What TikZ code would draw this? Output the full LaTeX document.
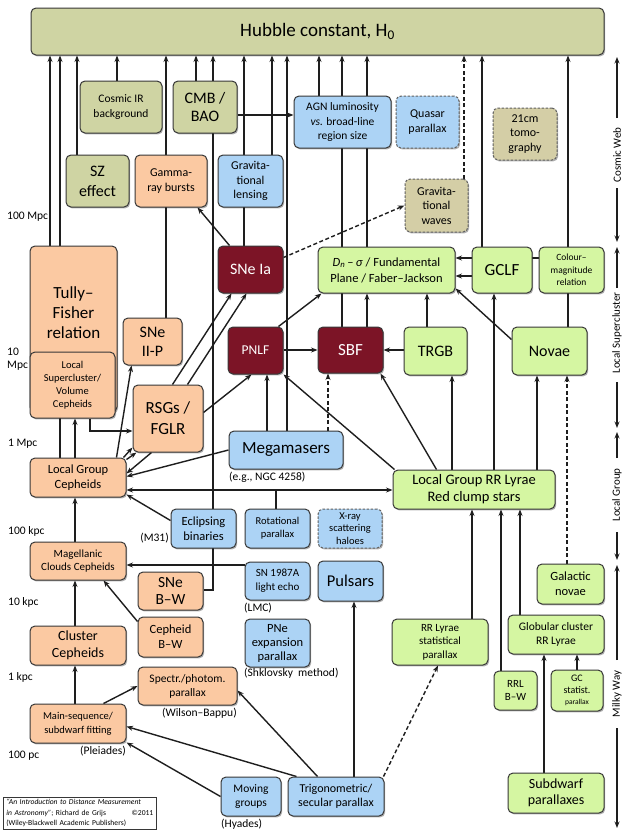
\documentclass[tikz,border=0pt]{standalone}
\usepackage{fontspec}
\setmainfont{Carlito}
\usetikzlibrary{arrows.meta,backgrounds,shadows}
\definecolor{cOlive}{RGB}{207,212,163}
\definecolor{cTan}{RGB}{212,206,166}
\definecolor{cPeach}{RGB}{251,201,162}
\definecolor{cSky}{RGB}{172,211,245}
\definecolor{cLime}{RGB}{213,246,162}
\definecolor{cWine}{RGB}{124,20,38}
\definecolor{cEdge}{RGB}{55,55,55}
\definecolor{cLine}{RGB}{30,30,30}
\newcommand\fs[2]{\fontsize{#1}{#2}\selectfont}
\newcommand\mybox[7]{\node[#6, minimum width={#4-#2}, minimum height={#5-#3}] (#1) at ({(#2+#4)/2},{(#3+#5)/2}) {#7};}
\tikzset{
  bx/.style={draw=cEdge, line width=1pt, rounded corners=5pt, align=center, inner sep=0pt, text=black,
    drop shadow={shadow xshift=1.2pt, shadow yshift=-1.4pt, opacity=0.3, fill=black}},
  ol/.style={bx, fill=cOlive},
  tn/.style={bx, fill=cTan},
  pe/.style={bx, fill=cPeach},
  bl/.style={bx, fill=cSky},
  li/.style={bx, fill=cLime},
  wi/.style={bx, fill=cWine, text=white},
  dsh/.style={dash pattern=on 2.5pt off 1.5pt, draw=cEdge!80},
  arr/.style={-{Stealth[length=6.5pt,width=5pt]}, line width=1.4pt, draw=cLine},
  arrb/.style={{Stealth[length=6.5pt,width=5pt]}-{Stealth[length=6.5pt,width=5pt]}, line width=1.4pt, draw=cLine},
  ln/.style={line width=1.4pt, draw=cLine},
  dsl/.style={dash pattern=on 4pt off 2.5pt},
  dl/.style={font=\fs{11.5}{13}, inner sep=0pt, anchor=west},
  capt/.style={font=\fs{11.5}{13}, inner sep=0pt},
  ax/.style={font=\fs{11}{13}, inner sep=0pt, rotate=90},
}
\begin{document}
\begin{tikzpicture}[x=1pt,y=-1pt]
\useasboundingbox (0,0) rectangle (627,836);
\foreach \v in {50,60,75,77,90,117,166,196,213,244,267,272,276,287,319,328,342,354,367,427,452,464,472,482,494,501,520,537,544,567,568,577,617}
  \coordinate (X\v) at (\v,0);
\foreach \v in {115,258,276,350,431,490,565,590}
  \coordinate (Y\v) at (0,\v);

% boxes
\mybox{H0}{31}{8}{604}{55}{ol,font=\fs{19}{22}}{Hubble constant, H\textsubscript{0}}
\mybox{CIR}{80}{81}{162}{133}{ol,font=\fs{11.5}{15}}{Cosmic IR\\background}
\mybox{CMB}{173}{81}{237}{133}{ol,font=\fs{16}{18}}{CMB /\\BAO}
\mybox{AGN}{294}{96}{391}{148}{bl,font=\fs{11.5}{14.5}}{AGN luminosity\\\textit{vs.} broad-line\\region size}
\mybox{QSO}{396}{96}{459}{148}{bl,dsh,font=\fs{12}{15}}{Quasar\\parallax}
\mybox{HI}{493}{108}{557}{160}{tn,dsh,font=\fs{12}{14.5}}{21cm\\tomo-\\graphy}
\mybox{SZ}{66}{155}{129}{207}{ol,font=\fs{16}{20}}{SZ\\effect}
\mybox{GRB}{135}{155}{207}{207}{pe,font=\fs{12}{15}}{Gamma-\\ray bursts}
\mybox{GL}{218}{155}{283}{207}{bl,font=\fs{12}{14.5}}{Gravita-\\tional\\lensing}
\mybox{GW}{405}{179}{468}{232}{tn,dsh,font=\fs{12}{14.5}}{Gravita-\\tional\\waves}
\mybox{SNIa}{218}{246}{283}{293}{wi,font=\fs{16}{18}}{SNe Ia}
\mybox{FP}{318}{247}{455}{293}{li,font=\fs{12.5}{16}}{\textit{D}\textsubscript{\textit{n}}\,–\,\textit{σ} / Fundamental\\Plane / Faber–Jackson}
\mybox{GCLF}{472}{247}{532}{293}{li,font=\fs{17}{20}}{GCLF}
\mybox{CM}{539}{247}{604}{293}{li,font=\fs{9.5}{12.5}}{Colour–\\magnitude\\relation}
\mybox{TF}{30}{246}{117}{412}{pe}{}
\node[font=\fs{17}{20}, align=center, inner sep=0pt] (TFt) at (73.5,313) {Tully–\\Fisher\\relation};
\mybox{LSC}{30}{352}{115}{418}{pe,font=\fs{10.5}{13}}{Local\\Supercluster/\\Volume\\Cepheids}
\mybox{SNIIP}{123}{318}{182}{365}{pe,font=\fs{16}{19}}{SNe\\II-P}
\mybox{PNLF}{228}{327}{283}{374}{wi,font=\fs{13.5}{16}}{PNLF}
\mybox{SBF}{318}{327}{383}{373}{wi,font=\fs{17}{20}}{SBF}
\mybox{TRGB}{404}{327}{467}{375}{li,font=\fs{16}{19}}{TRGB}
\mybox{Nov}{512}{327}{587}{375}{li,font=\fs{16}{19}}{Novae}
\mybox{RSG}{133}{385}{203}{452}{pe,font=\fs{17}{21}}{RSGs /\\FGLR}
\mybox{MM}{229}{431}{343}{469}{bl,font=\fs{17}{20}}{Megamasers}
\mybox{LGC}{30}{458}{126}{497}{pe,font=\fs{12.5}{15}}{Local Group\\Cepheids}
\mybox{LGRR}{393}{470}{555}{509}{li,font=\fs{14.5}{17}}{Local Group RR Lyrae\\Red clump stars}
\mybox{EB}{171}{509}{236}{548}{bl,font=\fs{12.5}{15}}{Eclipsing\\binaries}
\mybox{RP}{245}{509}{310}{548}{bl,font=\fs{10.5}{13}}{Rotational\\parallax}
\mybox{XR}{318}{509}{382}{548}{bl,dsh,font=\fs{10.5}{12.5}}{X-ray\\scattering\\haloes}
\mybox{MC}{30}{542}{126}{580}{pe,font=\fs{11}{13.5}}{Magellanic\\Clouds Cepheids}
\mybox{SNBW}{138}{572}{203}{610}{pe,font=\fs{15.5}{17}}{SNe\\B–W}
\mybox{SN87}{245}{562}{310}{600}{bl,font=\fs{11}{14}}{SN 1987A\\light echo}
\mybox{PSR}{318}{561}{383}{601}{bl,font=\fs{16.5}{19}}{Pulsars}
\mybox{CC}{30}{626}{126}{665}{pe,font=\fs{14}{17}}{Cluster\\Cepheids}
\mybox{CBW}{138}{617}{203}{657}{pe,font=\fs{12.5}{15}}{Cepheid\\B–W}
\mybox{PNe}{245}{619}{310}{667}{bl,font=\fs{12.5}{14}}{PNe\\expansion\\parallax}
\mybox{SPH}{138}{667}{237}{705}{pe,font=\fs{11.5}{14}}{Spectr./photom.\\parallax}
\mybox{MS}{30}{704}{126}{743}{pe,font=\fs{10.5}{13.5}}{Main-sequence/\\subdwarf fitting}
\mybox{MG}{221}{777}{281}{816}{bl,font=\fs{11.5}{14}}{Moving\\groups}
\mybox{TRIG}{288}{777}{384}{816}{bl,font=\fs{12}{14.5}}{Trigonometric/\\secular parallax}
\mybox{RRS}{392}{619}{488}{665}{li,font=\fs{11}{13.5}}{RR Lyrae\\statistical\\parallax}
\mybox{GN}{537}{564}{604}{604}{li,font=\fs{12.5}{15}}{Galactic\\novae}
\mybox{GCRR}{508}{615}{604}{654}{li,font=\fs{11.5}{14}}{Globular cluster\\RR Lyrae}
\mybox{RBW}{494}{671}{537}{710}{li,font=\fs{11}{13.5}}{RRL\\B–W}
\mybox{GCS}{551}{670}{603}{711}{li,font=\fs{10}{11.5}}{GC\\statist.\\{\fs{7.5}{9}parallax}}
\mybox{SDP}{508}{773}{604}{813}{li,font=\fs{14}{16.5}}{Subdwarf\\parallaxes}

% captions under boxes
\node[capt, anchor=north west] (cMM) at (229,472) {(e.g., NGC 4258)};
\node[capt, anchor=east] (cEB) at (169,538) {(M31)};
\node[capt, anchor=north west] (cSN) at (244,603) {(LMC)};
\node[capt, anchor=north west] (cPN) at (244,668) {(Shklovsky\ \ method)};
\node[capt, anchor=north east] (cSP) at (237,708) {(Wilson–Bappu)};
\node[capt, anchor=north east] (cMS) at (126,746) {(Pleiades)};
\node[capt, anchor=north west] (cMG) at (221,819) {(Hyades)};

% distance labels
\node[dl] (d1) at (7,217) {100 Mpc};
\node[dl, align=left] (d2) at (7,359) {10\\Mpc};
\node[dl] (d3) at (8,444) {1 Mpc};
\node[dl] (d4) at (8,531) {100 kpc};
\node[dl] (d5) at (8,602) {10 kpc};
\node[dl] (d6) at (8,677) {1 kpc};
\node[dl] (d7) at (8,756) {100 pc};

% footer
\node[draw=cEdge, line width=0.7pt, fill=white, align=left, inner xsep=3pt, inner ysep=2pt, font=\fs{7.6}{10.5}, anchor=north west, text width=147pt] (ref) at (3,797)
 {\textit{“An Introduction to Distance Measurement}\\\textit{in Astronomy”}; Richard de Grijs\hfill ©2011\ \ \\(Wiley-Blackwell Academic Publishers)};

% right axis
\node[ax] (aCW) at (617,155) {Cosmic Web};
\node[ax] (aLS) at (617,333) {Local Supercluster};
\node[ax] (aLG) at (617,495) {Local Group};
\node[ax] (aMW) at (617,694) {Milky Way};
\coordinate (a1) at (617,57);  \coordinate (a2) at (617,118);
\coordinate (a3) at (617,188); \coordinate (a4) at (617,242);
\coordinate (a5) at (617,247); \coordinate (a6) at (617,288);
\coordinate (a7) at (617,382); \coordinate (a8) at (617,428);
\coordinate (a9) at (617,432); \coordinate (a10) at (617,458);
\coordinate (a11) at (617,532); \coordinate (a12) at (617,560);
\coordinate (a13) at (617,565); \coordinate (a14) at (617,660);
\coordinate (a15) at (617,728); \coordinate (a16) at (617,828);
\draw[arr] (a2) -- (a1);
\draw[arr] (a3) -- (a4);
\draw[arr] (a6) -- (a5);
\draw[arr] (a7) -- (a8);
\draw[arr] (a10) -- (a9);
\draw[arr] (a11) -- (a12);
\draw[arr] (a14) -- (a13);
\draw[arr] (a15) -- (a16);

\begin{scope}[on background layer]
\fill[white] (0,0) rectangle (627,836);
% into H0
\draw[arr] (X50 |- TF.north) -- (X50 |- H0.south);
\draw[arr] (X60 |- LGC.north) -- (X60 |- H0.south);
\draw[arr] (X77 |- SZ.north) -- (X77 |- H0.south);
\draw[arr] (X117 |- CIR.north) -- (X117 |- H0.south);
\draw[arr] (X166 |- SNIIP.north) -- (X166 |- H0.south);
\draw[arr] (X196 |- CMB.north) -- (X196 |- H0.south);
\draw[arr] (SNBW.east |- Y590) -| (X213 |- H0.south);
\draw[arr] (X244 |- SNIa.north) -- (X244 |- H0.south);
\draw[arr] (X272 |- GL.north) -- (X272 |- H0.south);
\draw[arr] (X287 |- MM.north) -- (X287 |- H0.south);
\draw[arr] (X319 |- AGN.north) -- (X319 |- H0.south);
\draw[arr] (X342 |- SBF.north) -- (X342 |- H0.south);
\draw[arr] (X367 |- FP.north) -- (X367 |- H0.south);
\draw[arr,dsl] (X464 |- GW.north) -- (X464 |- H0.south);
\draw[arr] (X482 |- GCLF.north) -- (X482 |- H0.south);
\draw[arr] (X568 |- Nov.north) -- (X568 |- H0.south);
% upper part
\draw[arr] (CMB.east |- Y115) -- (AGN.west |- Y115);
\draw[arr] ([xshift=12pt]SNIa.north west) -- ([xshift=-10pt]GRB.south east);
\draw[arr,dsl] ([yshift=-12pt]SNIa.north east) -- (GW.west);
\draw[arr] (CM.west |- Y258) -- (FP.east |- Y258);
\draw[arr] (GCLF.west |- Y276) -- (FP.east |- Y276);
\draw[arr] ([xshift=-5pt]PNLF.north east) -- ([xshift=4pt]FP.south west);
\draw[arr] (X367 |- SBF.north) -- (X367 |- FP.south);
\draw[arr] (X427 |- TRGB.north) -- (X427 |- FP.south);
\draw[arr] ([yshift=-13pt]Nov.north west) -- ([yshift=5pt]FP.south east);
\draw[arr] (PNLF.east |- Y350) -- (SBF.west |- Y350);
\draw[arr] (TRGB.west |- Y350) -- (SBF.east |- Y350);
\draw[arr] ([xshift=44pt]LGRR.north west) -- ([xshift=-3pt]SBF.south east);
\draw[arr] ([xshift=2pt]LGRR.north west) -- (PNLF.south east);
\draw[arr] (X452 |- LGRR.north) -- (X452 |- TRGB.south);
\draw[arr] (X494 |- LGRR.north) -- (X494 |- GCLF.south);
\draw[arr] (X537 |- LGRR.north) -- (X537 |- Nov.south);
\draw[arr] (X267 |- MM.north) -- (X267 |- PNLF.south);
\draw[arr,dsl] (X328 |- MM.north) -- (X328 |- SBF.south);
\draw[arr] ([yshift=6pt]RSG.east) -- ([xshift=24pt]PNLF.south west);
\draw[arr] (X90 |- LSC.south) |- (RSG.west |- Y431);
\draw[arr] (X75 |- LGC.north) -- (X75 |- LSC.south);
% Local Group Cepheids
\draw[arr] ([xshift=-10pt]LGC.north east) -- ([xshift=9pt]SNIIP.south west);
\draw[arr] ([xshift=-3pt]LGC.north east) -- ([yshift=5pt]RSG.south west);
\draw[arr] ([yshift=-2pt]LGC.north east) -- ([xshift=4pt]RSG.south west);
\draw[arr] ([xshift=40pt]RSG.north west) -- ([xshift=14pt]SNIa.south west);
\draw[arr] ([xshift=55pt]RSG.north west) -- ([xshift=29pt]SNIa.south west);
\draw[arr] ([xshift=19pt]RSG.south west) -- ([yshift=4pt]LGC.east);
\draw[arr] (MM.west) -- ([yshift=1pt]LGC.east);
\draw[arrb] (LGC.east |- Y490) -- (LGRR.west |- Y490);
\draw[ln] (X276 |- RP.north) -- (X276 |- Y490);
\draw[arr] ([yshift=8pt]EB.west) -- ([yshift=3pt]LGC.south east);
% lower left
\draw[arr] (SN87.west |- Y565) -- (MC.east |- Y565);
\draw[arr] ([yshift=-5pt]CBW.north west) -- ([xshift=-23pt]MC.south east);
\draw[arr] (X75 |- CC.north) -- (X75 |- MC.south);
\draw[arr] (X75 |- MC.north) -- (X75 |- LGC.south);
\draw[arr] (X75 |- MS.north) -- (X75 |- CC.south);
\draw[arr] ([xshift=-23pt]MS.north east) -- (SPH.west);
\draw[arr] ([xshift=30pt]TRIG.north west) -- ([yshift=15pt]SPH.south east);
\draw[arr] ([xshift=9pt]TRIG.north west) -- ([yshift=-3pt]MS.east);
\draw[arr] (MG.west) -- ([yshift=1pt]MS.south east);
\draw[arr] (X354 |- TRIG.north) -- (X354 |- PSR.south);
\draw[arr,dsl] ([xshift=-1pt]TRIG.north east) -- ([xshift=-2pt]RRS.south);
% lower right
\draw[arr] (X472 |- RRS.north) -- (X472 |- LGRR.south);
\draw[arr] (X501 |- RBW.north) -- (X501 |- LGRR.south);
\draw[arr] (X520 |- GCRR.north) -- (X520 |- LGRR.south);
\draw[arr,dsl] (X567 |- GN.north) -- (X567 |- Nov.south);
\draw[arr] (X544 |- SDP.north) -- (X544 |- GCRR.south);
\draw[arr] (X577 |- GCS.north) -- (X577 |- GCRR.south);
\end{scope}
\end{tikzpicture}
\end{document}
